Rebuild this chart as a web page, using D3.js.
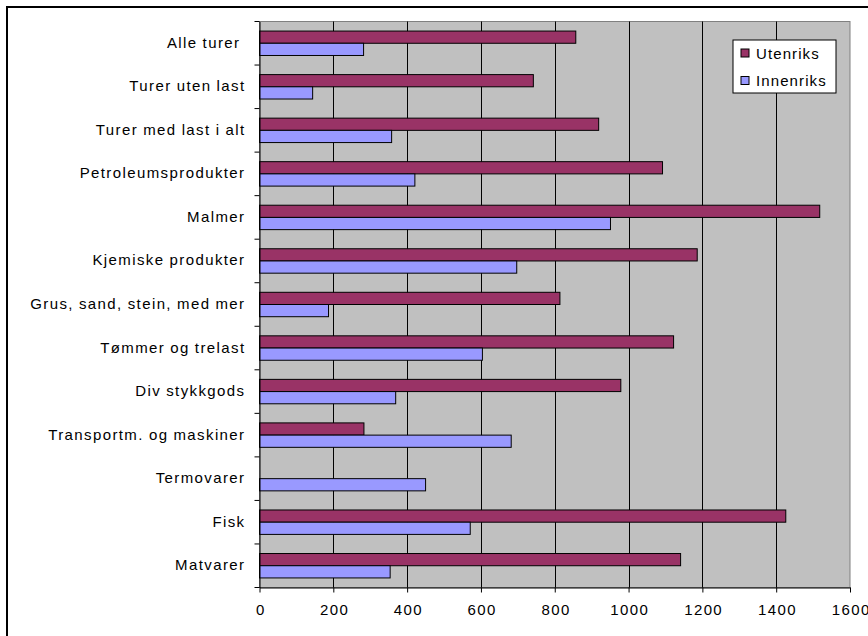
<!DOCTYPE html>
<html>
<head>
<meta charset="utf-8">
<script src="https://cdn.jsdelivr.net/npm/d3@7"></script>
<style>
    body { margin: 0; background: #fff; }
    svg { display: block; }
    text { font-family: Arial, 'Liberation Sans', sans-serif; fill: #000; }
    .lbl { font-size: 15px; letter-spacing: 1.4px; word-spacing: -0.5px; white-space: pre; }
</style>
</head>
<body>
<div class="bar-chart"><svg></svg></div>
<script>
const categories = [
    'Alle turer ',
    'Turer uten last',
    'Turer med last i alt',
    'Petroleumsprodukter',
    'Malmer',
    'Kjemiske produkter',
    'Grus, sand, stein, med mer',
    'Tømmer og trelast',
    'Div stykkgods',
    'Transportm. og maskiner',
    'Termovarer',
    'Fisk',
    'Matvarer'
];
const utenriks = [857, 742, 919, 1092, 1518, 1186, 814, 1122, 979, 283, 0, 1426, 1141];
const innenriks = [282, 144, 358, 421, 951, 697, 187, 604, 369, 682, 450, 571, 354];
const seriesNames = ['Utenriks', 'Innenriks'];
const seriesColors = ['#993366', '#9999FF'];
const xTicks = [0, 200, 400, 600, 800, 1000, 1200, 1400, 1600];

const w = 868;
const h = 636;
const plot = { left: 259.5, top: 21.5, right: 850, bottom: 587.5 };

const svg = d3.select('.bar-chart svg').attr('width', w).attr('height', h);

// outer chart frame (runs past the picture on the right and bottom)
svg.append('rect')
    .attr('x', 7).attr('y', 7)
    .attr('width', 900).attr('height', 700)
    .attr('fill', '#fff')
    .attr('stroke', '#000')
    .attr('stroke-width', 2);

const x = d3.scaleLinear().domain([0, 1600]).range([plot.left, plot.right]);
const y = d3.scaleBand().domain(categories).range([plot.top, plot.bottom]).paddingInner(0);
const ySub = d3.scaleBand().domain(seriesNames).range([0, y.bandwidth()]).paddingInner(0).paddingOuter(0.783);

const rows = categories.map((c, i) => ({ cat: c, vals: [utenriks[i], innenriks[i]] }));

// plot area
svg.append('rect')
    .attr('x', plot.left).attr('y', plot.top)
    .attr('width', plot.right - plot.left).attr('height', plot.bottom - plot.top)
    .attr('fill', '#C0C0C0')
    .attr('stroke', '#808080')
    .attr('stroke-width', 1);

// gridlines
svg.append('g')
    .selectAll('line')
    .data(xTicks.slice(1, -1))
    .enter()
    .append('line')
    .attr('x1', (d) => Math.round(x(d)) + 0.5)
    .attr('x2', (d) => Math.round(x(d)) + 0.5)
    .attr('y1', plot.top)
    .attr('y2', plot.bottom)
    .attr('stroke', '#000')
    .attr('stroke-width', 1);

// bars
const groups = svg.append('g')
    .selectAll('g')
    .data(rows)
    .enter()
    .append('g')
    .attr('transform', (d) => `translate(0,${y(d.cat)})`);

groups.selectAll('rect')
    .data((d) => d.vals.map((v, k) => ({ v, k })).filter((e) => e.v > 0))
    .enter()
    .append('rect')
    .attr('x', x(0))
    .attr('y', (d) => ySub(seriesNames[d.k]))
    .attr('width', (d) => x(d.v) - x(0))
    .attr('height', ySub.bandwidth())
    .attr('fill', (d) => seriesColors[d.k])
    .attr('stroke', '#000')
    .attr('stroke-width', 1);

// y axis
const axisY = d3.axisLeft(y).tickSize(0).tickPadding(14);
const gy = svg.append('g').attr('transform', `translate(${plot.left},0)`).call(axisY);
gy.select('.domain').attr('stroke', '#000');
gy.selectAll('text').attr('class', 'lbl').attr('font-size', null).attr('font-family', null).attr('dy', '0.3em');

// category separators on the y axis
svg.append('g')
    .selectAll('line')
    .data(categories.concat(['end']))
    .enter()
    .append('line')
    .attr('x1', plot.left - 5)
    .attr('x2', plot.left)
    .attr('y1', (d, i) => plot.top + i * y.step())
    .attr('y2', (d, i) => plot.top + i * y.step())
    .attr('stroke', '#000');

// x axis
const axisX = d3.axisBottom(x).tickValues(xTicks).tickFormat(d3.format('d')).tickSizeInner(5).tickSizeOuter(0).tickPadding(12);
const gx = svg.append('g').attr('transform', `translate(0,${plot.bottom})`).call(axisX);
gx.select('.domain').attr('stroke', '#000');
gx.selectAll('text').attr('class', 'lbl').attr('font-size', null).attr('font-family', null).attr('dx', '0.05em');

// legend
const legend = svg.append('g').attr('transform', 'translate(733,40)');
legend.append('rect')
    .attr('width', 103).attr('height', 53)
    .attr('fill', '#fff')
    .attr('stroke', '#000');

const items = legend.selectAll('.item')
    .data(seriesNames)
    .enter()
    .append('g')
    .attr('class', 'item')
    .attr('transform', (d, i) => `translate(8,${9 + i * 27.5})`);

items.append('rect')
    .attr('width', 8).attr('height', 8)
    .attr('fill', (d, i) => seriesColors[i])
    .attr('stroke', '#000');

items.append('text')
    .attr('class', 'lbl')
    .style('letter-spacing', '1.1px')
    .attr('x', 15)
    .attr('y', 9.5)
    .text((d) => d);
</script>
</body>
</html>
